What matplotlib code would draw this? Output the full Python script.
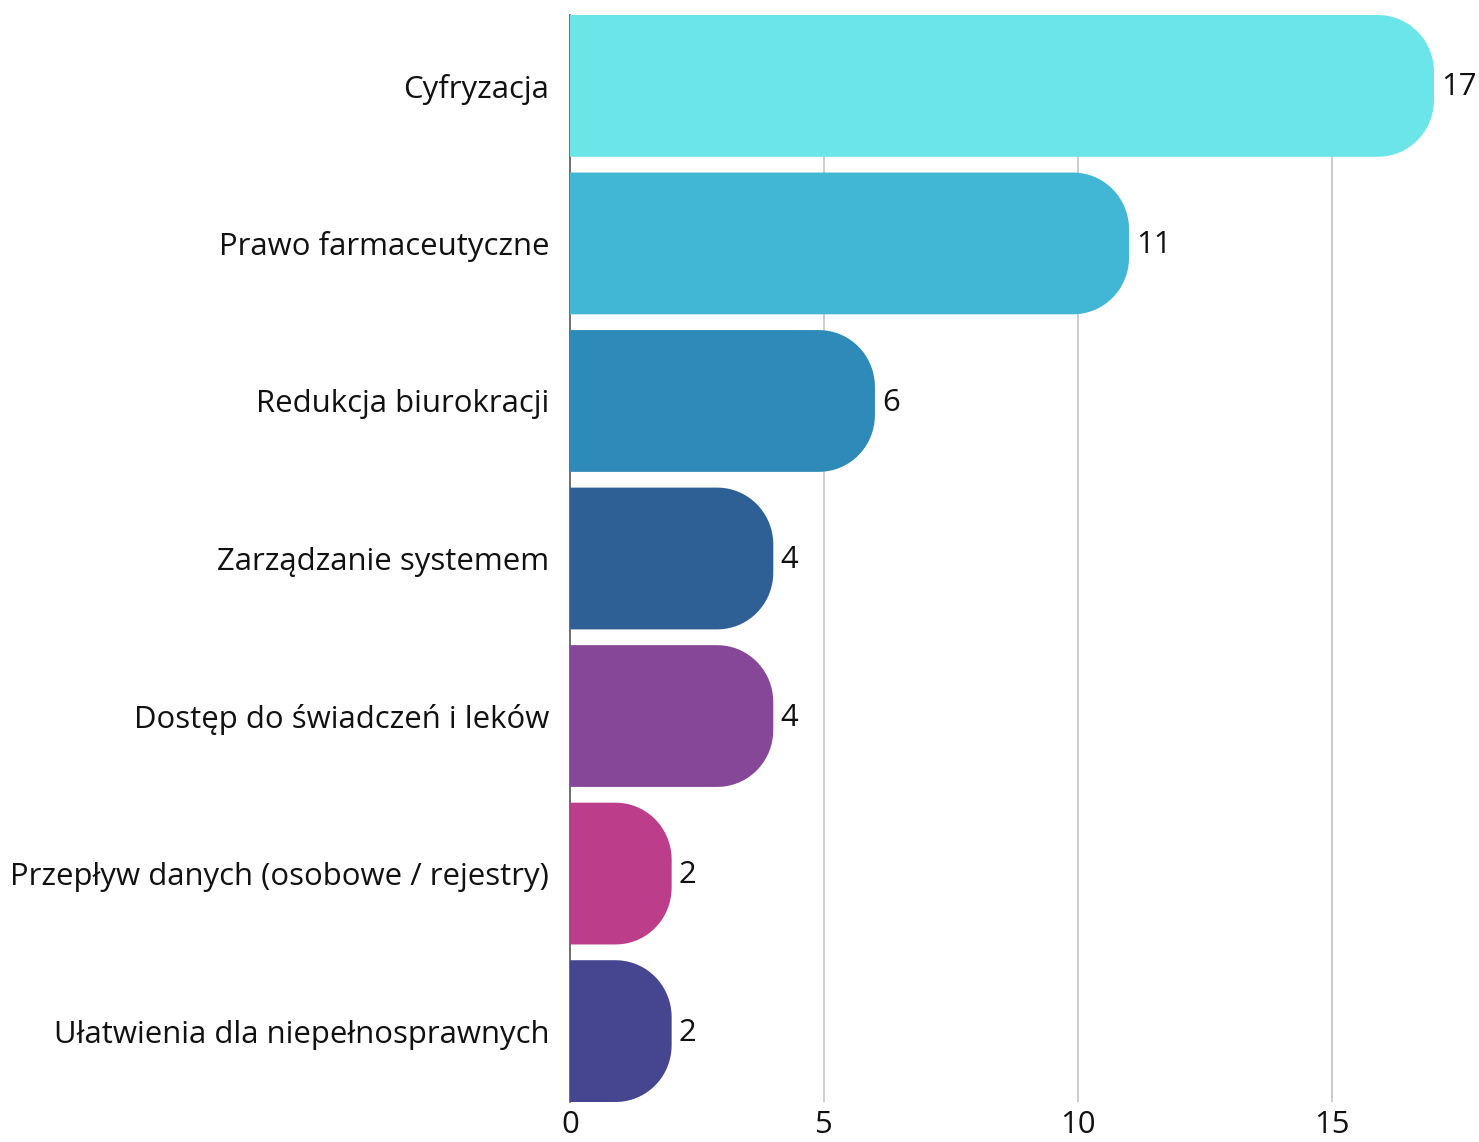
import numpy as np
import matplotlib
matplotlib.use("Agg")
import matplotlib.pyplot as plt
from matplotlib.path import Path
from matplotlib.patches import PathPatch

plt.rcParams['font.family'] = ['Open Sans', 'DejaVu Sans']

## Données
kategorie = ["Cyfryzacja", "Prawo farmaceutyczne", "Redukcja biurokracji",
             "Zarządzanie systemem", "Dostęp do świadczeń i leków",
             "Przepływ danych (osobowe / rejestry)", "Ułatwienia dla niepełnosprawnych"]
wartosci = [17, 11, 6, 4, 4, 2, 2]
kolory = ["#6be5e8", "#42b6d5", "#2e8ab8", "#2e6096", "#874799", "#bc3e8b", "#45468f"]
xticks = [0, 5, 10, 15]

W, H = 1479, 1142
fig = plt.figure(figsize=(W / 100, H / 100), dpi=100)
ax = fig.add_axes([570 / W, 40 / H, (1434 - 570) / W, (1102 - 15) / H])
ax.set_xlim(0, 17)
ax.set_ylim(len(kategorie) - 0.55, -0.45)

# taille des pixels en unités de données
ax_w = 1434 - 570
ax_h = 1102 - 15
px_x = 17 / ax_w
px_y = len(kategorie) / ax_h
r_px = 56
h = 0.9
fs = 16 * 1.4


def barre_arrondie(y, v, couleur):
    rx = min(r_px * px_x, v)
    ry = min(r_px * px_y, h / 2)
    top, bot = y - h / 2, y + h / 2
    pts = [(0, top), (v - rx, top)]
    t = np.linspace(-np.pi / 2, 0, 20)
    pts += [(v - rx + rx * np.cos(a), top + ry + ry * np.sin(a)) for a in t]
    t = np.linspace(0, np.pi / 2, 20)
    pts += [(v - rx + rx * np.cos(a), bot - ry + ry * np.sin(a)) for a in t]
    pts += [(0, bot), (0, top)]
    ax.add_patch(PathPatch(Path(pts, closed=True), facecolor=couleur, edgecolor='none', zorder=3))


for i, (v, c) in enumerate(zip(wartosci, kolory)):
    barre_arrondie(i, v, c)
    ax.text(v + 7 * px_x, i + 0.01, str(v), va='center', ha='left', fontsize=fs, color='#111111',
            clip_on=False)

for x in xticks[1:]:
    ax.axvline(x, color='#c8c8c8', lw=1.3, zorder=1)

ax.set_yticks(range(len(kategorie)))
ax.set_yticklabels(kategorie, fontsize=fs, color='#111111')
for lab in ax.get_yticklabels():
    lab.set_y(lab.get_position()[1])
ax.set_xticks(xticks)
ax.set_xticklabels([str(x) for x in xticks], fontsize=fs, color='#111111')
ax.tick_params(length=0)
ax.tick_params(axis='y', pad=15)
ax.tick_params(axis='x', pad=6)
for s in ['top', 'right', 'bottom']:
    ax.spines[s].set_visible(False)
ax.spines['left'].set_color('#555555')
ax.spines['left'].set_linewidth(1.2)
ax.spines['left'].set_zorder(2)

fig.savefig("out.png", dpi=100)
